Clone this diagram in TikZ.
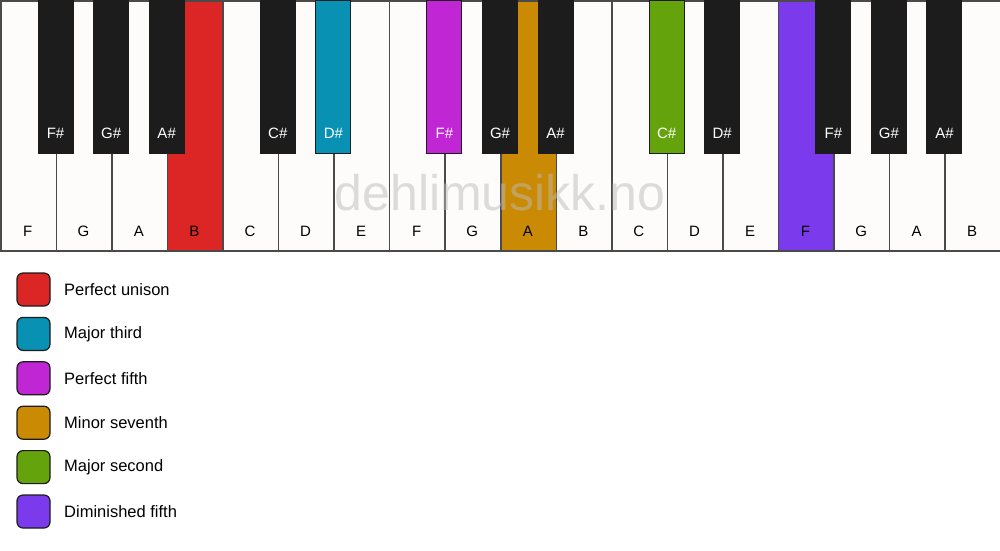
\documentclass[tikz,border=0pt]{standalone}
\usepackage{fontspec}
\setmainfont{Liberation Sans}
\definecolor{keywhite}{HTML}{FDFCFA}
\definecolor{keyblack}{HTML}{1C1C1C}
\definecolor{keyline}{HTML}{4A4A4A}
\definecolor{cred}{HTML}{DC2626}
\definecolor{cteal}{HTML}{0891B2}
\definecolor{cmag}{HTML}{C026D3}
\definecolor{corange}{HTML}{CA8A04}
\definecolor{cgreen}{HTML}{65A30D}
\definecolor{cviolet}{HTML}{7C3AED}
\definecolor{wmark}{HTML}{BBBBBB}
\tikzset{
  whitekey/.style={draw=keyline, line width=1.5pt, fill=keywhite, minimum width=55.5556pt, minimum height=250pt, inner sep=0pt, anchor=north west},
  blackkey/.style={draw=keyblack, line width=1pt, fill=keyblack, minimum width=35pt, minimum height=153pt, inner sep=0pt, anchor=north},
  wlabel/.style={font=\fontsize{15}{18}\selectfont, text=black, anchor=base},
  blabel/.style={font=\fontsize{15}{18}\selectfont, text=white, anchor=base},
  legbox/.style={draw=keyblack, line width=1.2pt, rounded corners=6pt, minimum width=33pt, minimum height=33pt, inner sep=0pt},
  legtext/.style={font=\fontsize{16.5}{19}\selectfont, text=black, anchor=west, inner sep=0pt},
  watermark/.style={font=\fontsize{50}{60}\selectfont, text=wmark, text opacity=0.5}
}
\begin{document}
\begin{tikzpicture}[x=1pt,y=-1pt]
\useasboundingbox (0,0) rectangle (1000,550);
\fill[white] (0,0) rectangle (1000,550);
% white keys
\foreach \i/\n/\c in {0/F/keywhite,1/G/keywhite,2/A/keywhite,3/B/cred,4/C/keywhite,5/D/keywhite,6/E/keywhite,7/F/keywhite,8/G/keywhite,9/A/corange,10/B/keywhite,11/C/keywhite,12/D/keywhite,13/E/keywhite,14/F/cviolet,15/G/keywhite,16/A/keywhite,17/B/keywhite}{
  \node[whitekey, fill=\c] (w\i) at ({\i*55.5556},0) {};
  \node[wlabel] (wl\i) at ({\i*55.5556+27.7778},236) {\n};
}
% black keys
\foreach \b/\n/\c in {1/F\#/keyblack,2/G\#/keyblack,3/A\#/keyblack,5/C\#/keyblack,6/D\#/cteal,8/F\#/cmag,9/G\#/keyblack,10/A\#/keyblack,12/C\#/cgreen,13/D\#/keyblack,15/F\#/keyblack,16/G\#/keyblack,17/A\#/keyblack}{
  \node[blackkey, fill=\c] (b\b) at ({\b*55.5556},0) {};
  \node[blabel] (bl\b) at ({\b*55.5556},138.5) {\n};
}
% watermark
\node[watermark] (wm) at (500,193) {dehlimusikk.no};
% legend
\foreach \k/\c/\t in {0/cred/Perfect unison,1/cteal/Major third,2/cmag/Perfect fifth,3/corange/Minor seventh,4/cgreen/Major second,5/cviolet/Diminished fifth}{
  \node[legbox, fill=\c] (lb\k) at (33.5,{289.5+\k*44.4}) {};
  \node[legtext] (lt\k) at (64,{289.5+\k*44.4}) {\t};
}
\end{tikzpicture}
\end{document}
